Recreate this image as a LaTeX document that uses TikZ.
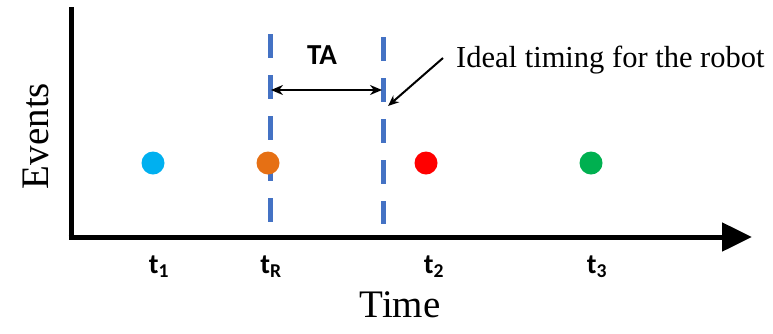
\documentclass[tikz,border=0pt]{standalone}
\usepackage{fontspec}
\setmainfont{Liberation Serif}
\newfontfamily\calib{Carlito}
\usetikzlibrary{arrows.meta,calc}
\definecolor{dashblue}{RGB}{68,114,196}
\definecolor{dotcyan}{RGB}{0,176,240}
\definecolor{dotorange}{RGB}{230,112,20}
\definecolor{dotred}{RGB}{255,0,0}
\definecolor{dotgreen}{RGB}{0,176,80}
\tikzset{
  axisline/.style={line width=5pt, black},
  tadash/.style={line width=5pt, dashblue, dash pattern=on 24pt off 17pt},
  evdot/.style={circle, minimum size=23pt, inner sep=0pt},
  tlabel/.style={font=\calib\bfseries\fontsize{28}{32}\selectfont, inner sep=0pt},
}
\begin{document}
\begin{tikzpicture}[x=1pt,y=-1pt]
\useasboundingbox (0,0) rectangle (773,333);
\coordinate (top) at (71,7);
\coordinate (origin) at (71,237);
\coordinate (xstart) at (68.5,237);
\coordinate (xend) at (752,237);
\draw[axisline] (top) -- (origin);
\draw[axisline, -{Triangle[length=30pt,width=28pt]}, line cap=butt] (xstart) -- (xend);
% dashed lines
\coordinate (d1t) at (270,34);
\coordinate (d1b) at (270,222);
\coordinate (d2t) at (383,37);
\coordinate (d2b) at (383,224);
\draw[tadash] (d1t) -- (d1b);
\draw[tadash] (d2t) -- (d2b);
% TA arrow
\coordinate (tal) at (271,90);
\coordinate (tar) at (382,90);
\draw[line width=2pt, {Stealth[length=12pt,width=10pt]}-{Stealth[length=12pt,width=10pt]}] (tal) -- (tar);
\node[font=\calib\bfseries\fontsize{29}{33}\selectfont] (ta) at (322,55) {TA};
% dots
\node[evdot, fill=dotcyan] (e1) at (153,163) {};
\node[evdot, fill=dotorange] (eR) at (268,163) {};
\node[evdot, fill=dotred] (e2) at (426,163) {};
\node[evdot, fill=dotgreen] (e3) at (591,163) {};
% labels
\node[tlabel] (l1) at (159,267) {t\textsubscript{1}};
\node[tlabel] (lR) at (271,267) {t\textsubscript{R}};
\node[tlabel] (l2) at (434,267) {t\textsubscript{2}};
\node[tlabel] (l3) at (597,267) {t\textsubscript{3}};
\node[font=\fontsize{39}{42}\selectfont] (time) at (400,305) {Time};
\node[font=\fontsize{39}{42}\selectfont, rotate=90] (events) at (36,136) {Events};
% annotation
\node[font=\fontsize{30.5}{34}\selectfont, anchor=west, inner sep=0pt] (ideal) at (456,60) {Ideal timing for the robot};
\coordinate (tail) at (443,58);
\coordinate (tip) at (388,106);
\draw[line width=2pt, -{Stealth[length=11pt,width=9pt]}] (tail) -- (tip);
\end{tikzpicture}
\end{document}
